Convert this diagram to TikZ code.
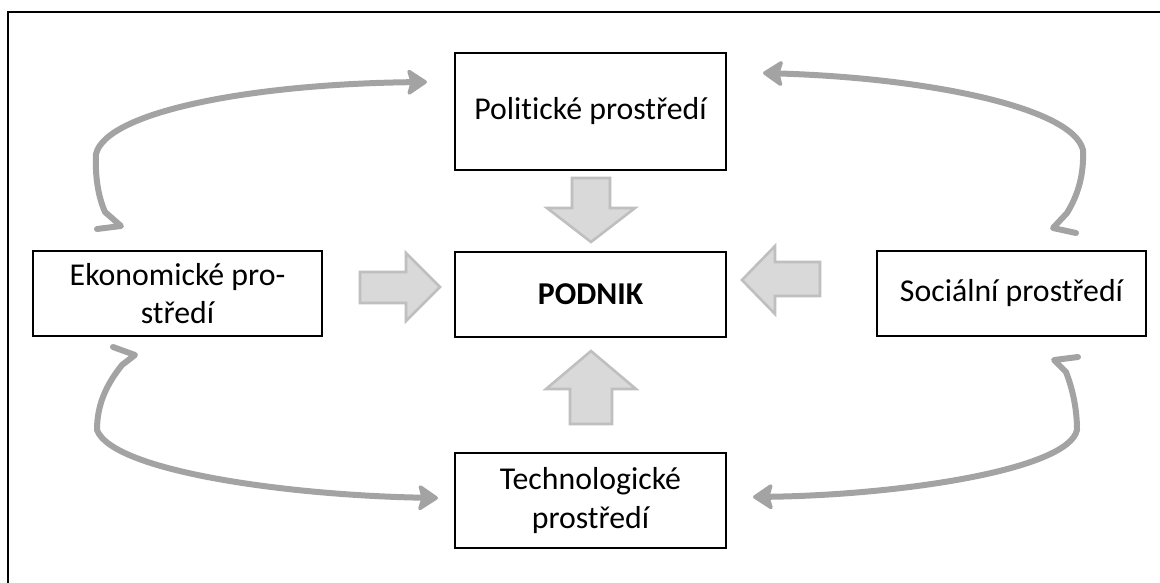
\documentclass[tikz,border=0pt]{standalone}
\usepackage{fontspec}
\setmainfont{Carlito}[Ligatures={NoCommon}]
\usetikzlibrary{arrows.meta}
\definecolor{curvegray}{HTML}{A3A3A3}
\definecolor{blockfill}{HTML}{D9D9D9}
\definecolor{blockline}{HTML}{BFBFBF}
\begin{document}
\begin{tikzpicture}[x=1pt,y=-1pt,
  envbox/.style={draw=black, line width=1.9pt, inner sep=0pt, align=center,
    font=\fontsize{31.8}{38.5}\selectfont},
  mainbox/.style={envbox, line width=2.8pt},
  blockarrow/.style={fill=blockfill, draw=blockline, line width=2.6pt, line join=miter},
  curvearrow/.style={draw=curvegray, line width=6pt, line cap=round, line join=round,
    -{Stealth[length=22pt,width=29pt,inset=4pt,line width=3.5pt,round]}}
]
\useasboundingbox (0,0) rectangle (1160,582);
\clip (0,0) rectangle (1160,582);
% outer frame (right and bottom edges fall outside the picture)
\draw[line width=2pt] (7.8,12) rectangle (1175,600);

% boxes
\node[envbox, minimum width=271pt, minimum height=117pt] (pol) at (590.5,111.5) {Politické prostředí};
\node[mainbox, minimum width=271pt, minimum height=85pt] (pod) at (590.5,294.5) {\textbf{PODNIK}};
\node[envbox, minimum width=289pt, minimum height=85pt] (eko) at (177.5,293.5) {Ekonomické pro-\\středí};
\node[envbox, minimum width=269pt, minimum height=85pt] (soc) at (1011.5,293.3) {Sociální prostředí};
\node[envbox, minimum width=271pt, minimum height=95pt] (tec) at (590.5,500.5) {Technologické\\prostředí};

% block arrows toward PODNIK
\draw[blockarrow] (572,178) -- (610,178) -- (610,208) -- (635,208) -- (591,242) -- (547,208) -- (572,208) -- cycle;
\draw[blockarrow] (570,424) -- (612,424) -- (612,389) -- (636,389) -- (591,351) -- (546,389) -- (570,389) -- cycle;
\draw[blockarrow] (360,272) -- (406,272) -- (406,253) -- (440,287) -- (406,321) -- (406,303) -- (360,303) -- cycle;
\draw[blockarrow] (820,262) -- (775,262) -- (775,246) -- (742,280) -- (775,314) -- (775,296) -- (820,296) -- cycle;

% curved double arrows
\coordinate (tlS) at (97,229);
\coordinate (tlT) at (121,226);
\coordinate (tlE) at (427,82);
\draw[curvearrow] (tlS) -- (tlT) -- (105,212)
  .. controls (98,196) and (95,176) .. (96,154)
  .. controls (106,112) and (250,84) .. (tlE);

\coordinate (trS) at (1076,233);
\coordinate (trT) at (1053,228);
\coordinate (trE) at (763,73);
\draw[curvearrow] (trS) -- (trT) -- (1067,213)
  .. controls (1078,195) and (1084,175) .. (1083,150)
  .. controls (1073,108) and (930,78) .. (trE);

\coordinate (blS) at (113,347);
\coordinate (blT) at (135,355);
\coordinate (blE) at (438,498);
\draw[curvearrow] (blS) -- (blT) -- (122,365)
  .. controls (106,385) and (97,405) .. (97,430)
  .. controls (112,470) and (280,495) .. (blE);

\coordinate (brS) at (1078,357);
\coordinate (brT) at (1054,360);
\coordinate (brE) at (753,497);
\draw[curvearrow] (brS) -- (brT) -- (1066,372)
  .. controls (1073,390) and (1077,410) .. (1077,430)
  .. controls (1068,470) and (900,495) .. (brE);
\end{tikzpicture}
\end{document}
